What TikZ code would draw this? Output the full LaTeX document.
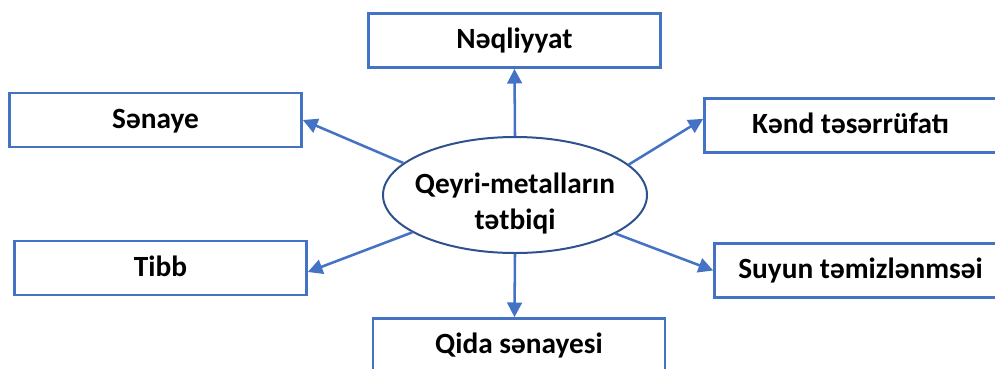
\documentclass[tikz,border=0pt]{standalone}
\usepackage{fontspec}
\setmainfont{Carlito}
\usetikzlibrary{arrows.meta,shapes.geometric}
\definecolor{boxblue}{HTML}{4472C4}
\definecolor{ellblue}{HTML}{2F528F}
\begin{document}
\begin{tikzpicture}[x=0.75pt,y=-0.75pt,
  lbl/.style={font=\fontsize{22}{26}\selectfont\bfseries},
  box/.style={lbl,draw=boxblue,line width=2pt,minimum width=219pt,minimum height=40.5pt,inner sep=0pt,fill=white,text height=12.5pt,text depth=0pt},
  conn/.style={draw=boxblue,line width=1.9pt,-{Triangle[length=11pt,width=11pt]}}]
\useasboundingbox (0,0) rectangle (995,368);
\node[box] (naq) at (514.5,40.5) {Nəqliyyat};
\node[box] (sen) at (155.5,120) {Sənaye};
\node[box] (kend) at (850.5,125.5) {Kənd təsərrüfatı};
\node[box] (tibb) at (160.5,268) {Tibb};
\node[box] (suyun) at (860.5,270.5) {Suyun təmizlənmsəi};
\node[box] (qida) at (519,345.5) {Qida sənayesi};
\node[ellipse,draw=ellblue,line width=1.5pt,minimum width=198pt,minimum height=87pt,inner sep=0pt] (ell) at (515,195) {};
\node[lbl,align=center] (elltext) at (515,204) {Qeyri-metalların\\[1pt]tətbiqi};
\draw[conn] (ell.north) -- (naq.south);
\draw[conn] (ell.south) -- ([xshift=-3.4pt]qida.north);
\draw[conn] (ell.164) -- (sen.east);
\draw[conn] (ell.15) -- ([yshift=5pt]kend.west);
\draw[conn] (ell.200) -- ([yshift=-3pt]tibb.east);
\draw[conn] (ell.339) -- (suyun.west);
\end{tikzpicture}
\end{document}
